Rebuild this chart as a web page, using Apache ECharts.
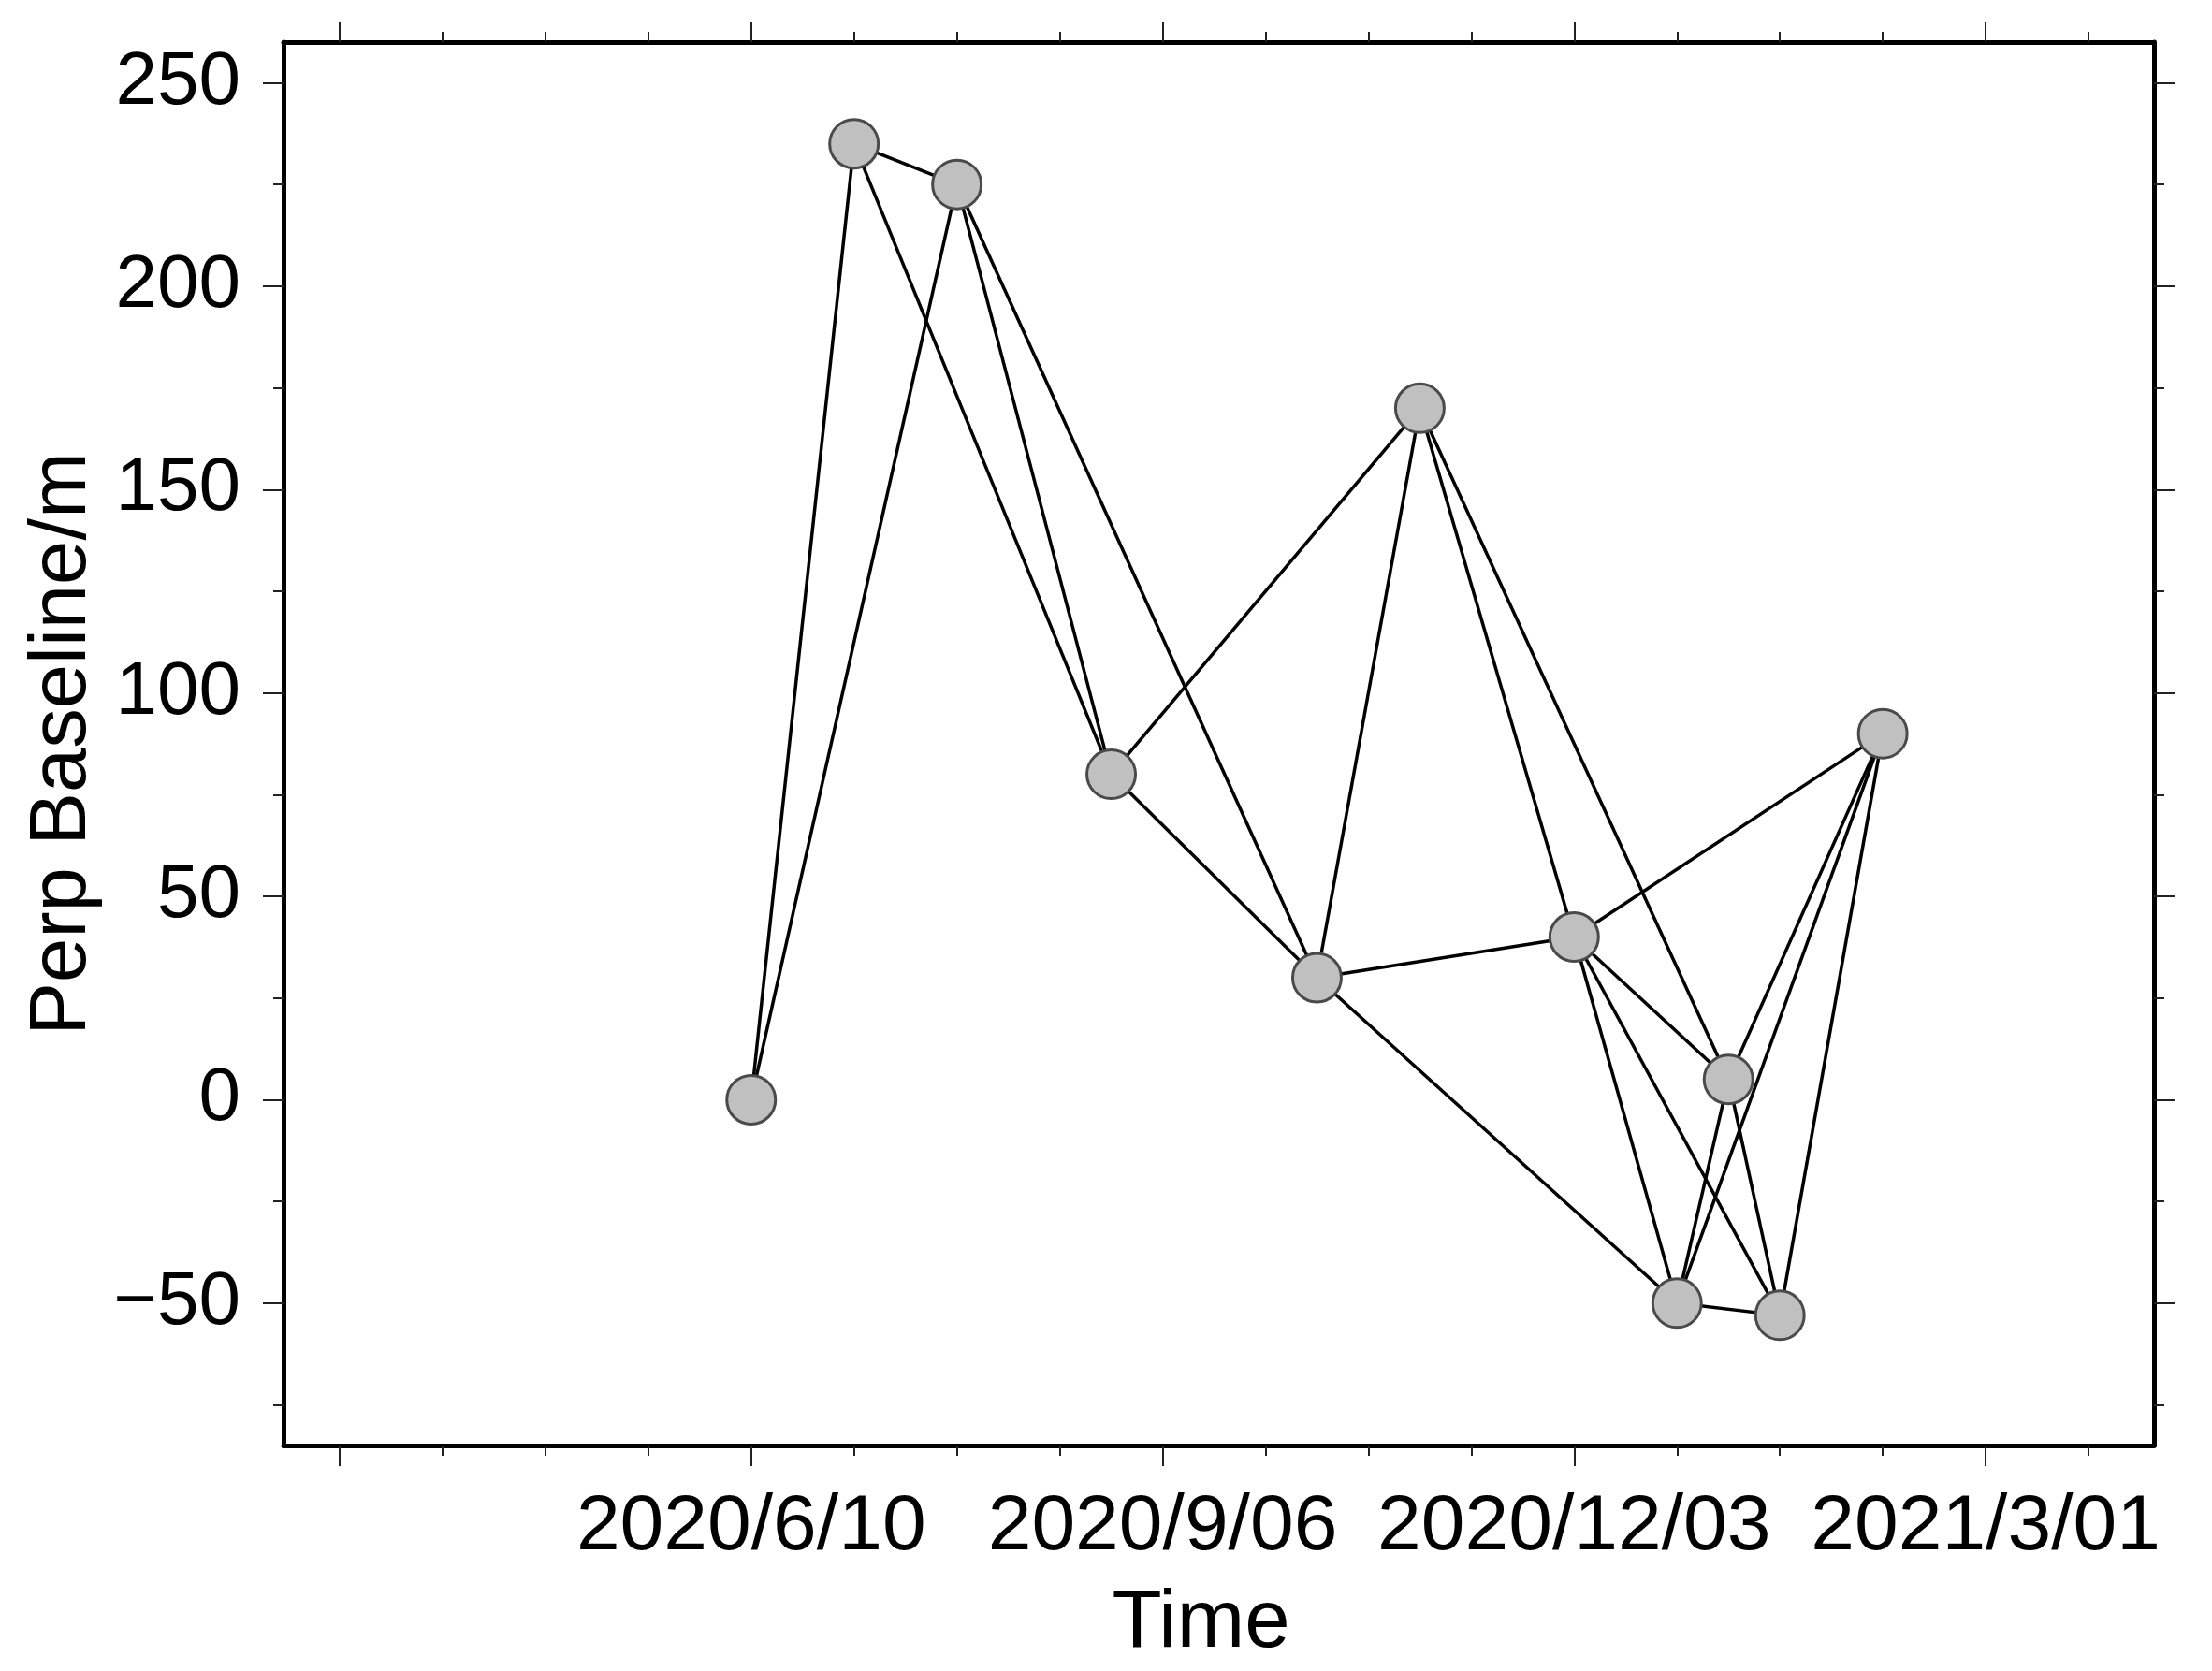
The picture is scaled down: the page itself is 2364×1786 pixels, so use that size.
<!DOCTYPE html>
<html>
<head>
<meta charset="utf-8">
<script src="https://cdn.jsdelivr.net/npm/echarts@6/dist/echarts.min.js"></script>
<style>
  html, body { margin: 0; padding: 0; background: #fff; }
  #chart { width: 2364px; height: 1786px; }
</style>
</head>
<body>
<div id="chart"></div>
<script>
// ---- data (acquisition dates and perpendicular baselines) ----
const refDate = '2020-06-10';
const acqDates = ['2020-06-10', '2020-07-02', '2020-07-24', '2020-08-26', '2020-10-09', '2020-10-31',
                  '2020-12-03', '2020-12-25', '2021-01-05', '2021-01-16', '2021-02-07'];
const perpBaseline = [0, 235, 225, 80, 30, 170, 40, -50, 5, -53, 90];
// interferometric pairs (indices into acqDates)
const pairSource = [0, 0, 1, 1, 2, 2, 3, 3, 4, 4, 4, 5, 5, 6, 6, 6, 6, 7, 7, 7, 8, 8, 9];
const pairTarget = [1, 2, 2, 3, 3, 4, 4, 5, 5, 6, 7, 6, 8, 7, 8, 9, 10, 8, 9, 10, 9, 10, 10];

// ---- axes (days since refDate) ----
const xMin = -100, xMax = 300;
const xMajorTicks = [-88, 0, 88, 176, 264];
const xMinorTicks = [-66, -44, -22, 22, 44, 66, 110, 132, 154, 198, 220, 242, 286];
const xLabelValues = [0, 88, 176, 264];
const xLabelTexts = ['2020/6/10', '2020/9/06', '2020/12/03', '2021/3/01'];
const yMin = -85, yMax = 260;
const yMajorTicks = [-50, 0, 50, 100, 150, 200, 250];
const yMinorTicks = [-75, -25, 25, 75, 125, 175, 225];
const yLabelTexts = ['\u221250', '0', '50', '100', '150', '200', '250'];

function dayOffset(s) {
  const p = s.split('-').map(Number);
  const r = refDate.split('-').map(Number);
  return Math.round((Date.UTC(p[0], p[1] - 1, p[2]) - Date.UTC(r[0], r[1] - 1, r[2])) / 86400000);
}

const FONT = '"Liberation Sans", Arial, Helvetica, sans-serif';
const tickStyle = { color: '#222', width: 2 };
const frameStyle = { color: '#000', width: 5 };

function xAxisCfg(pos, ticks, len, withLine, withLabel) {
  const a = {
    type: 'value', min: xMin, max: xMax, position: pos, offset: 0,
    splitLine: { show: false },
    axisLine: { show: withLine, onZero: false, lineStyle: frameStyle },
    axisTick: { show: true, inside: false, length: len, customValues: ticks, lineStyle: tickStyle },
    axisLabel: { show: false }
  };
  if (withLabel) {
    a.axisLabel = {
      show: true, customValues: xLabelValues, margin: 46,
      fontSize: 84, fontFamily: FONT, color: '#000',
      formatter: v => { const i = xLabelValues.indexOf(v); return i >= 0 ? xLabelTexts[i] : ''; }
    };
    a.name = 'Time';
    a.nameLocation = 'middle';
    a.nameGap = 148;
    a.nameTextStyle = { fontSize: 87, fontFamily: FONT, color: '#000', padding: [0, 38, 0, 0] };
  }
  return a;
}
function yAxisCfg(pos, ticks, len, withLine, withLabel) {
  const a = {
    type: 'value', min: yMin, max: yMax, position: pos, offset: 0,
    splitLine: { show: false },
    axisLine: { show: withLine, onZero: false, lineStyle: frameStyle },
    axisTick: { show: true, inside: false, length: len, customValues: ticks, lineStyle: tickStyle },
    axisLabel: { show: false }
  };
  if (withLabel) {
    a.axisLabel = {
      show: true, customValues: yMajorTicks, margin: 46,
      fontSize: 80, fontFamily: FONT, color: '#000',
      formatter: v => { const i = yMajorTicks.indexOf(v); return i >= 0 ? yLabelTexts[i] : ''; }
    };
    a.name = 'Perp Baseline/m';
    a.nameLocation = 'middle';
    a.nameRotate = 90;
    a.nameGap = 192;
    a.nameTextStyle = { fontSize: 85, fontFamily: FONT, color: '#000' };
  }
  return a;
}

const nodes = acqDates.map((d, i) => ({ value: [dayOffset(d), perpBaseline[i]] }));
const links = pairSource.map((s, i) => ({ source: s, target: pairTarget[i] }));

const chart = echarts.init(document.getElementById('chart'), null, { renderer: 'canvas' });
chart.setOption({
  animation: false,
  backgroundColor: '#fff',
  grid: { left: 303, right: 62, top: 45, bottom: 241, containLabel: false },
  xAxis: [
    xAxisCfg('bottom', xMajorTicks, 22, true, true),
    xAxisCfg('bottom', xMinorTicks, 11, false, false),
    xAxisCfg('top', xMajorTicks, 22, true, false),
    xAxisCfg('top', xMinorTicks, 11, false, false)
  ],
  yAxis: [
    yAxisCfg('left', yMajorTicks, 22, true, true),
    yAxisCfg('left', yMinorTicks, 11, false, false),
    yAxisCfg('right', yMajorTicks, 22, true, false),
    yAxisCfg('right', yMinorTicks, 11, false, false)
  ],
  series: [{
    type: 'graph',
    coordinateSystem: 'cartesian2d',
    xAxisIndex: 0, yAxisIndex: 0,
    layout: 'none',
    data: nodes,
    links: links,
    symbol: 'circle',
    symbolSize: 52,
    itemStyle: { color: '#c0c0c0', borderColor: '#4a4a4a', borderWidth: 3 },
    lineStyle: { color: '#000', width: 3.5, opacity: 1, curveness: 0 },
    edgeSymbol: ['none', 'none'],
    label: { show: false },
    emphasis: { disabled: true },
    silent: true
  }]
});
</script>
</body>
</html>
